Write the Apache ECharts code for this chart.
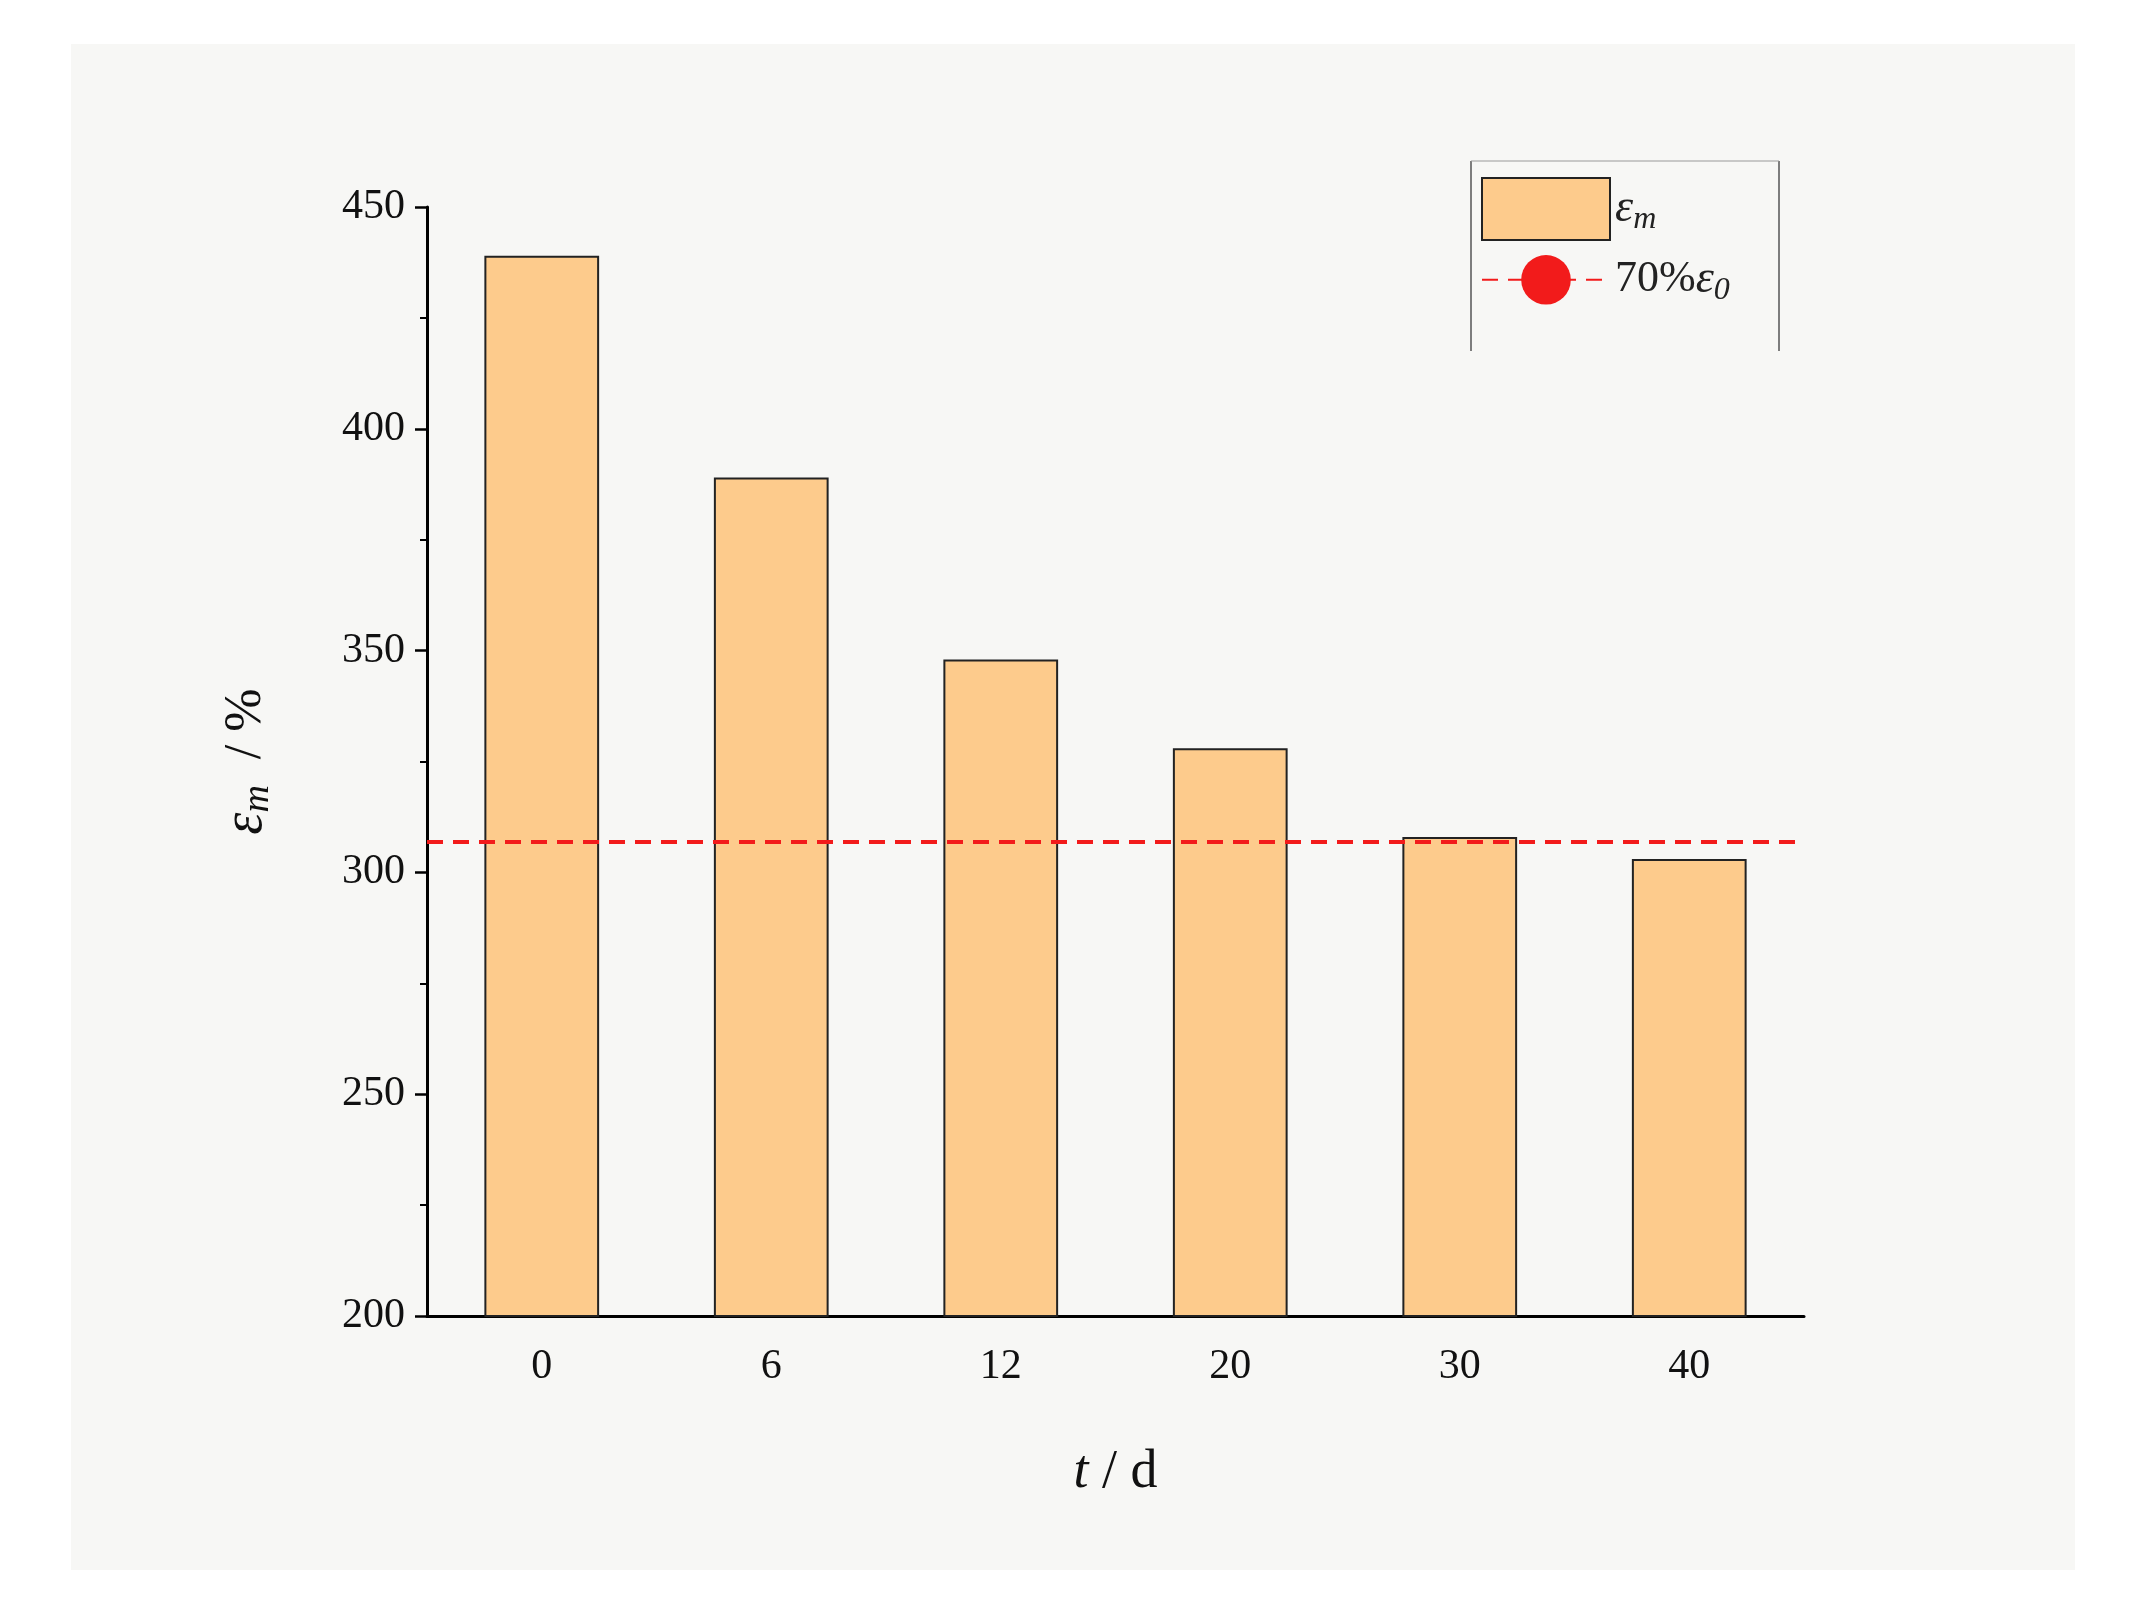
<!DOCTYPE html>
<html>
<head>
<meta charset="utf-8">
<script src="https://cdn.jsdelivr.net/npm/echarts@6/dist/echarts.min.js"></script>
<style>
html, body { margin: 0; padding: 0; background: #fff; }
#main { width: 2129px; height: 1599px; }
</style>
</head>
<body>
<div id="main"></div>
<script>
// data
let categories = ['0', '6', '12', '20', '30', '40'];
let emValues = [439, 389, 348, 328, 308, 303];
let refLine = 307;
let yTicks = { min: 200, max: 450, interval: 50 };

let FONT = 'Liberation Serif';
let myChart = echarts.init(document.getElementById('main'));

let option = {
    backgroundColor: '#fff',
    graphic: [
        { type: 'rect', z: -10, shape: { x: 71, y: 44, width: 2004, height: 1526 }, style: { fill: '#f7f7f5' } },
        { type: 'line', shape: { x1: 1471, y1: 161, x2: 1471, y2: 351 }, style: { stroke: '#555', lineWidth: 1.5 } },
        { type: 'line', shape: { x1: 1779, y1: 161, x2: 1779, y2: 351 }, style: { stroke: '#555', lineWidth: 1.5 } },
        { type: 'line', shape: { x1: 1471, y1: 161, x2: 1779, y2: 161 }, style: { stroke: '#999', lineWidth: 1 } }
    ],
    grid: { left: 427, right: 325, top: 207, bottom: 283 },
    legend: {
        orient: 'vertical',
        left: 1476,
        top: 172,
        itemWidth: 128,
        itemHeight: 62,
        itemGap: 14,
        textStyle: {
            fontFamily: FONT, fontSize: 44, color: '#222',
            rich: {
                e: { fontFamily: FONT, fontSize: 46, fontStyle: 'italic', color: '#222' },
                s: { fontFamily: FONT, fontSize: 32, fontStyle: 'italic', color: '#222', padding: [22, 0, 0, 0] },
                n: { fontFamily: FONT, fontSize: 44, color: '#222' }
            }
        },
        formatter: function(name) {
            if (name === 'em') return '{e|ε}{s|m}';
            return '{n|70%}{e|ε}{s|0}';
        },
        data: [
            { name: 'em', icon: 'rect' },
            { name: 'ref' }
        ]
    },
    xAxis: {
        type: 'category',
        data: categories,
        name: '{i|t} / d',
        nameLocation: 'middle',
        nameGap: 130,
        nameTextStyle: {
            fontFamily: FONT, fontSize: 54, color: '#111',
            rich: { i: { fontFamily: FONT, fontSize: 54, fontStyle: 'italic', color: '#111' } }
        },
        axisLine: { lineStyle: { color: '#000', width: 3 } },
        axisTick: { alignWithLabel: true, inside: false, length: 12, lineStyle: { color: '#000', width: 2.5 } },
        minorTick: { show: false },
        axisLabel: { fontFamily: FONT, fontSize: 42, color: '#111', margin: 30 },
        splitLine: { show: false }
    },
    yAxis: {
        type: 'value',
        min: yTicks.min,
        max: yTicks.max,
        interval: yTicks.interval,
        name: '{e|ε}{s|m}{n|  / %}',
        nameLocation: 'middle',
        nameRotate: 90,
        nameGap: 150,
        nameTextStyle: {
            rich: {
                e: { fontFamily: FONT, fontSize: 56, fontStyle: 'italic', color: '#111' },
                s: { fontFamily: FONT, fontSize: 38, fontStyle: 'italic', color: '#111', padding: [24, 0, 0, 0] },
                n: { fontFamily: FONT, fontSize: 52, color: '#111' }
            }
        },
        axisLine: { show: true, lineStyle: { color: '#000', width: 3 } },
        axisTick: { show: true, length: 12, lineStyle: { color: '#000', width: 2.5 } },
        minorTick: { show: true, splitNumber: 2, length: 7, lineStyle: { color: '#000', width: 2 } },
        axisLabel: { fontFamily: FONT, fontSize: 42, color: '#111', margin: 22 },
        splitLine: { show: false }
    },
    series: [
        {
            name: 'em',
            type: 'bar',
            data: emValues,
            barWidth: '50%',
            itemStyle: { color: '#fdcb8c', borderColor: '#222', borderWidth: 2 }
        },
        {
            name: 'ref',
            type: 'line',
            data: [],
            symbol: 'none',
            lineStyle: { color: '#f21b1b', width: 4, type: [16, 10] },
            itemStyle: { color: '#f21b1b' },
            markLine: {
                silent: true,
                symbol: 'none',
                label: { show: false },
                lineStyle: { color: '#f21b1b', width: 4, type: [16, 10] },
                data: [{ yAxis: refLine }]
            }
        }
    ]
};
myChart.setOption(option, true);
</script>
</body>
</html>
